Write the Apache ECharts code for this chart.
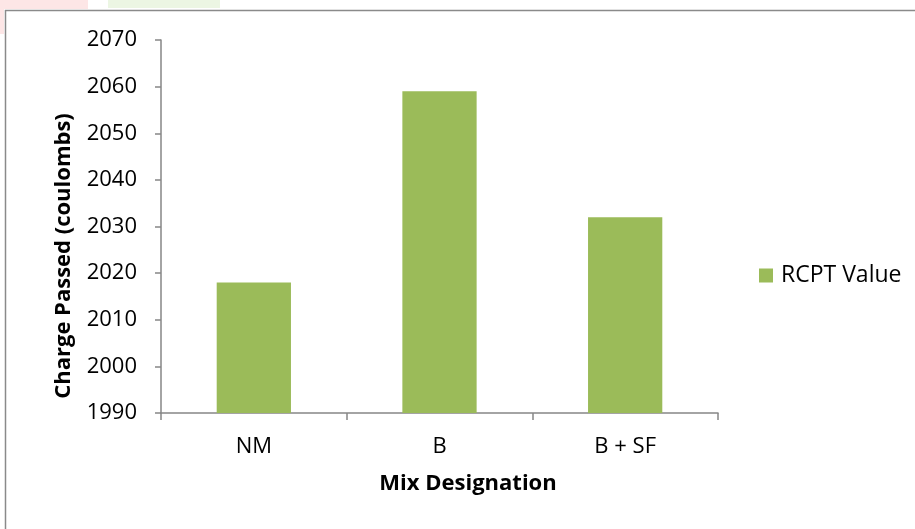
<!DOCTYPE html>
<html>
<head>
<meta charset="utf-8">
<script src="https://cdn.jsdelivr.net/npm/echarts@6/dist/echarts.min.js"></script>
<style>
  html, body { margin: 0; padding: 0; background: #ffffff; }
  #chart { width: 915px; height: 529px; }
</style>
</head>
<body>
<div id="chart"></div>
<script>
// Mix designations and their rapid chloride permeability results
const categories = ['NM', 'B', 'B + SF'];
const rcptValues = [2018, 2059, 2032];
const seriesName = 'RCPT Value';
const yAxisTitle = 'Charge Passed (coulombs)';
const xAxisTitle = 'Mix Designation';

const FONT = '"Open Sans", "Liberation Sans", sans-serif';
const AXIS_GRAY = '#868686';
const BAR_GREEN = '#9BBB59';

const chart = echarts.init(document.getElementById('chart'), null, { renderer: 'canvas' });

chart.setOption({
  backgroundColor: '#ffffff',
  animation: false,
  grid: { left: 161, right: 197, top: 40, bottom: 116 },
  legend: {
    data: [seriesName],
    orient: 'vertical',
    left: 754,
    top: 259,
    icon: 'rect',
    itemWidth: 14,
    itemHeight: 14,
    itemGap: 8,
    textStyle: { fontFamily: FONT, fontSize: 23, color: '#000000', padding: [0, 0, 0, 3] }
  },
  xAxis: {
    type: 'category',
    data: categories,
    boundaryGap: true,
    axisLine: { lineStyle: { color: AXIS_GRAY, width: 1.5 } },
    axisTick: { show: true, length: 7, lineStyle: { color: AXIS_GRAY, width: 1.5 } },
    axisLabel: { fontFamily: FONT, fontSize: 22, color: '#000000', margin: 23 },
    splitLine: { show: false }
  },
  yAxis: {
    type: 'value',
    min: 1990,
    max: 2070,
    interval: 10,
    axisLine: { show: true, lineStyle: { color: AXIS_GRAY, width: 1.5 } },
    axisTick: { show: true, length: 6, lineStyle: { color: AXIS_GRAY, width: 1.5 } },
    axisLabel: {
      fontFamily: FONT, fontSize: 22, color: '#000000', margin: 24,
      formatter: v => String(v)
    },
    splitLine: { show: false }
  },
  series: [{
    name: seriesName,
    type: 'bar',
    data: rcptValues,
    barWidth: '40%',
    itemStyle: { color: BAR_GREEN }
  }],
  graphic: [
    // faint remnants along the top edge
    { type: 'rect', silent: true, shape: { x: 0, y: 0, width: 88, height: 9 }, style: { fill: '#fde6e6' } },
    { type: 'rect', silent: true, shape: { x: 0, y: 0, width: 4, height: 34 }, style: { fill: '#fde6e6' } },
    { type: 'rect', silent: true, shape: { x: 108, y: 0, width: 112, height: 8 }, style: { fill: '#ecf6e3' } },
    // outer chart frame
    {
      type: 'rect', silent: true,
      shape: { x: 5.5, y: 10.5, width: 1000, height: 1000 },
      style: { fill: 'none', stroke: '#8a8a8a', lineWidth: 1.5 }
    },
    // axis titles
    {
      type: 'text', silent: true,
      x: 64, y: 256, rotation: Math.PI / 2,
      style: {
        text: yAxisTitle, fontFamily: FONT, fontSize: 22, fontWeight: 'bold',
        fill: '#000000', textAlign: 'center', textVerticalAlign: 'middle'
      }
    },
    {
      type: 'text', silent: true,
      x: 468, y: 484,
      style: {
        text: xAxisTitle, fontFamily: FONT, fontSize: 22, fontWeight: 'bold',
        fill: '#000000', textAlign: 'center', textVerticalAlign: 'middle'
      }
    }
  ]
});
</script>
</body>
</html>
